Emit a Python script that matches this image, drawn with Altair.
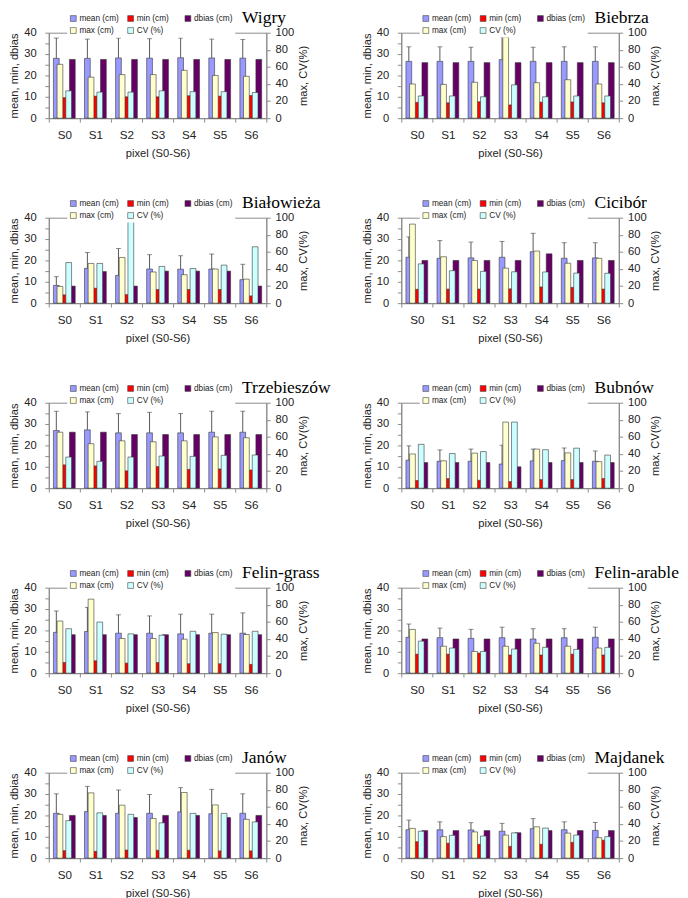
import altair as alt
import pandas as pd

PIXELS = ["S0", "S1", "S2", "S3", "S4", "S5", "S6"]
SITES = ["Wigry", "Biebrza", "Białowieża", "Cicibór", "Trzebieszów",
         "Bubnów", "Felin-grass", "Felin-arable", "Janów", "Majdanek"]
SERIES = ["mean (cm)", "min (cm)", "dbias (cm)", "max (cm)", "CV (%)"]
COLORS = ["#9999FF", "#FF0000", "#660066", "#FFFFCC", "#CCFFFF"]
PRIMARY = SERIES[:3]
SECONDARY = SERIES[3:]

# mean (cm), left axis
MEAN = {
    "Wigry": [28.0, 28.0, 28.2, 28.1, 28.3, 28.2, 28.1],
    "Biebrza": [26.6, 26.6, 26.6, 27.4, 26.6, 26.6, 26.6],
    "Białowieża": [8.3, 16.3, 13.0, 16.0, 15.9, 16.0, 11.0],
    "Cicibór": [21.5, 21.0, 21.2, 21.5, 24.1, 21.0, 21.2],
    "Trzebieszów": [27.0, 27.3, 25.9, 25.9, 25.9, 26.2, 26.2],
    "Bubnów": [13.1, 12.6, 12.6, 11.3, 12.8, 12.9, 12.6],
    "Felin-grass": [19.1, 19.5, 18.7, 18.7, 18.4, 18.7, 18.7],
    "Felin-arable": [16.8, 16.6, 16.3, 16.6, 16.0, 16.6, 16.8],
    "Janów": [21.0, 21.8, 21.0, 21.0, 21.7, 20.8, 21.0],
    "Majdanek": [13.3, 13.3, 13.2, 12.6, 13.8, 13.3, 13.0],
}
# standard deviation of mean (error bar above the mean bar)
SD = {
    "Wigry": [9.5, 9.0, 9.3, 9.1, 9.2, 8.8, 8.7],
    "Biebrza": [6.8, 6.8, 6.6, 10.6, 6.6, 6.8, 6.8],
    "Białowieża": [4.1, 7.4, 12.6, 6.7, 6.3, 7.0, 7.2],
    "Cicibór": [9.5, 8.3, 7.4, 7.4, 8.6, 7.3, 7.1],
    "Trzebieszów": [9.0, 8.4, 9.0, 9.6, 9.0, 9.8, 9.8],
    "Bubnów": [6.7, 5.3, 5.7, 8.8, 5.5, 5.9, 4.8],
    "Felin-grass": [10.0, 11.3, 8.6, 8.1, 9.2, 8.9, 9.5],
    "Felin-arable": [6.2, 4.5, 4.2, 4.9, 4.8, 4.2, 4.7],
    "Janów": [9.1, 11.8, 10.9, 8.8, 11.3, 11.4, 9.1],
    "Majdanek": [4.5, 3.7, 3.4, 3.7, 4.7, 3.7, 3.7],
}
# min (cm), left axis
MIN = {
    "Wigry": [9.6, 10.3, 10.0, 10.0, 10.5, 10.3, 10.6],
    "Biebrza": [7.4, 7.2, 7.7, 6.2, 7.5, 7.6, 7.2],
    "Białowieża": [3.9, 7.0, 4.0, 6.4, 6.4, 6.4, 3.4],
    "Cicibór": [6.5, 6.6, 6.6, 6.7, 7.6, 7.4, 6.6],
    "Trzebieszów": [10.9, 10.4, 8.1, 10.1, 8.8, 9.0, 8.5],
    "Bubnów": [3.6, 4.5, 3.7, 3.1, 4.0, 4.0, 4.5],
    "Felin-grass": [5.0, 5.8, 4.7, 5.0, 4.4, 4.4, 4.1],
    "Felin-arable": [8.9, 8.9, 9.4, 8.5, 8.5, 8.9, 8.5],
    "Janów": [3.5, 3.2, 3.8, 3.7, 3.7, 3.4, 3.4],
    "Majdanek": [7.7, 7.0, 6.5, 5.5, 6.5, 7.4, 8.4],
}
# dbias (cm), left axis
DBIAS = {
    "Wigry": [27.5, 27.5, 27.5, 27.5, 27.5, 27.5, 27.5],
    "Biebrza": [26.0, 26.0, 26.0, 26.0, 26.0, 26.0, 26.0],
    "Białowieża": [8.0, 14.8, 8.0, 15.0, 15.0, 15.0, 8.0],
    "Cicibór": [20.0, 20.0, 20.0, 20.0, 23.1, 20.0, 20.0],
    "Trzebieszów": [26.2, 26.2, 25.1, 25.1, 25.1, 25.1, 25.1],
    "Bubnów": [12.0, 12.0, 12.0, 10.0, 12.0, 12.0, 12.0],
    "Felin-grass": [18.0, 18.0, 18.0, 18.0, 18.0, 18.0, 18.0],
    "Felin-arable": [16.0, 16.0, 16.0, 16.0, 16.0, 16.0, 16.0],
    "Janów": [20.0, 20.0, 19.0, 20.0, 20.0, 19.0, 20.0],
    "Majdanek": [12.9, 12.9, 12.9, 11.9, 12.9, 12.9, 12.9],
}
# max (cm), right axis
MAX = {
    "Wigry": [63, 48, 51, 51, 56, 50, 49],
    "Biebrza": [40, 39.5, 42, 95, 41.5, 45, 40],
    "Białowieża": [19.6, 46.5, 53.5, 36.5, 33.3, 40, 28.1],
    "Cicibór": [92.5, 54.3, 50, 41, 61, 46.7, 52.5],
    "Trzebieszów": [65.5, 52, 55.4, 54.3, 55.4, 60, 59],
    "Bubnów": [40, 32, 41, 77.3, 45.7, 41.3, 31],
    "Felin-grass": [61, 86.6, 40.6, 40.6, 39.8, 47.5, 45.2],
    "Felin-arable": [51.2, 31.5, 25.4, 31.5, 35, 31.5, 29.4],
    "Janów": [51.3, 76.4, 62, 46.5, 76.8, 62.3, 45.4],
    "Majdanek": [34.8, 25.2, 30.7, 27, 36.7, 29.3, 24],
}
# CV (%), right axis
CV = {
    "Wigry": [32, 30.5, 30.5, 32, 31, 31, 30],
    "Biebrza": [26, 26, 25, 39, 25, 26, 26],
    "Białowieża": [47.5, 46.5, 100, 43, 40.5, 44.5, 66],
    "Cicibór": [46, 38, 37.2, 36.7, 36.5, 35.2, 35],
    "Trzebieszów": [36.4, 31.4, 36.4, 37.6, 37.2, 38.4, 38.8],
    "Bubnów": [51.3, 40.5, 42.8, 77.3, 45, 46.8, 38.7],
    "Felin-grass": [52, 59.8, 46, 44.4, 49, 45.6, 49],
    "Felin-arable": [37.5, 29.4, 25.4, 28.2, 30.2, 27.8, 30.2],
    "Janów": [43.9, 53, 51.3, 41.3, 52.4, 52.4, 42.4],
    "Majdanek": [31.5, 26.7, 25.9, 29.6, 35.2, 27, 25.2],
}

FONT = "Liberation Sans"
W, H = 224, 88
AXIS_GRAY = "#888888"
TEXT = "#222222"


def panel(site):
    prim = pd.DataFrame(
        [{"pixel": p, "series": s, "value": v}
         for s, vals in zip(PRIMARY, [MEAN[site], MIN[site], DBIAS[site]])
         for p, v in zip(PIXELS, vals)]
    )
    sec = pd.DataFrame(
        [{"pixel": p, "series": s, "value": v}
         for s, vals in zip(SECONDARY, [MAX[site], CV[site]])
         for p, v in zip(PIXELS, vals)]
    )
    err = pd.DataFrame({
        "pixel": PIXELS,
        "series": ["mean (cm)"] * 7,
        "value": MEAN[site],
        "hi": [m + s for m, s in zip(MEAN[site], SD[site])],
    })

    x = alt.X("pixel:N", sort=PIXELS,
              scale=alt.Scale(paddingInner=0, paddingOuter=0),
              axis=alt.Axis(title="pixel (S0-S6)", labelAngle=0, tickBand="extent",
                            tickSize=4, labelPadding=8, titlePadding=7,
                            labelFontSize=12, domainColor=AXIS_GRAY, tickColor=AXIS_GRAY))
    xo_p = alt.XOffset("series:N", scale=alt.Scale(domain=PRIMARY, paddingInner=0.28,
                                                   paddingOuter=0.58))
    xo_s = alt.XOffset("series:N", scale=alt.Scale(domain=SECONDARY, paddingInner=0.34,
                                                   paddingOuter=0.95))
    left_axis = alt.Axis(title="mean, min, dbias", values=list(range(0, 45, 5)),
                         tickSize=4, labelPadding=9, titlePadding=4)
    yscale_l = alt.Scale(domain=[0, 40], nice=False, zero=True)
    right_axis = alt.Axis(title="max, CV(%)", orient="right", values=list(range(0, 120, 20)),
                          tickSize=4, labelPadding=5, titlePadding=4, titleAngle=270,
                          titleBaseline="top")
    legend = alt.Legend(orient="none", legendX=19, legendY=-21, columns=3, direction="horizontal",
                        title=None, symbolType="square", symbolSize=36,
                        symbolStrokeColor="#444444", symbolStrokeWidth=0.6,
                        labelFont=FONT, labelFontSize=8.5, labelColor=TEXT,
                        labelOffset=2, columnPadding=7, rowPadding=3.5,
                        gridAlign="all", fillColor="white", padding=2)
    color = alt.Color("series:N", scale=alt.Scale(domain=SERIES, range=COLORS), legend=legend)

    bars_p = alt.Chart(prim).mark_bar(stroke="#333333", strokeWidth=0.6).encode(
        x=x, xOffset=xo_p,
        y=alt.Y("value:Q", scale=yscale_l, axis=left_axis),
        color=color,
    )
    rule = alt.Chart(err).mark_rule(color="#555555", strokeWidth=1).encode(
        x=x, xOffset=xo_p,
        y=alt.Y("value:Q", scale=yscale_l, axis=left_axis),
        y2="hi:Q",
    )
    cap = alt.Chart(err).mark_tick(color="#555555", thickness=1, size=5).encode(
        x=x, xOffset=xo_p,
        y=alt.Y("hi:Q", scale=yscale_l, axis=left_axis),
    )
    bars_s = alt.Chart(sec).mark_bar(stroke="#333333", strokeWidth=0.6).encode(
        x=x, xOffset=xo_s,
        y=alt.Y("value:Q", scale=alt.Scale(domain=[0, 100], nice=False), axis=right_axis),
        color=color,
    )
    left = alt.layer(bars_p, rule, cap)
    return alt.layer(left, bars_s).resolve_scale(y="independent", xOffset="independent").properties(
        width=W, height=H,
        title=alt.TitleParams(site, anchor="start", frame="group", dx=199, offset=-15,
                              font="Liberation Serif", fontSize=18, fontWeight="normal",
                              color="black"),
    )


chart = alt.concat(*[panel(s) for s in SITES], columns=2,
                   spacing={"row": 35.5, "column": 30}).resolve_scale(
    color="independent").resolve_legend(color="independent").properties(
    padding={"top": -13, "left": 0, "right": 0, "bottom": 0})

chart = chart.configure_view(stroke=AXIS_GRAY, strokeWidth=1).configure_axis(
    labelFont=FONT, titleFont=FONT, labelFontSize=11.5, titleFontSize=11.5,
    titleFontWeight="normal", labelColor=TEXT, titleColor=TEXT,
    domainColor=AXIS_GRAY, tickColor=AXIS_GRAY, grid=False,
)

chart.save("out.html", embed_options={"renderer": "svg", "actions": False})
